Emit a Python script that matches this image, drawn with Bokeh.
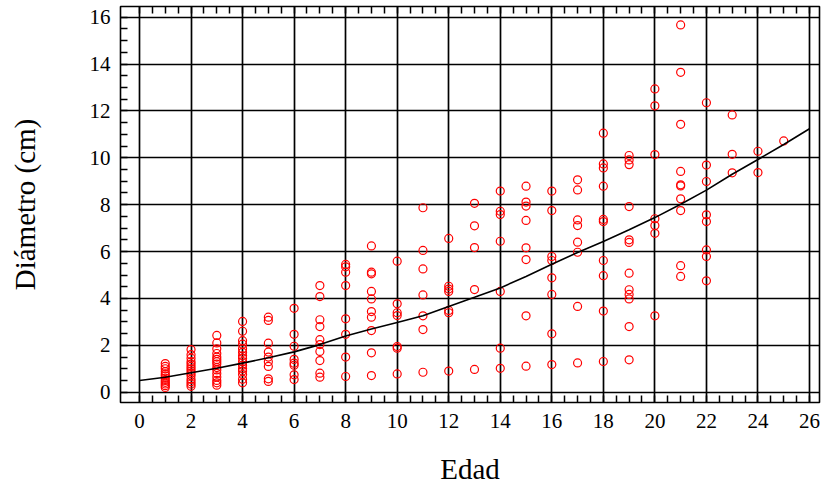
from bokeh.plotting import figure
from bokeh.models import Range1d, FixedTicker, LinearAxis, ColumnDataSource
from bokeh.embed import file_html
from bokeh.resources import INLINE

# Diameter (cm) measured per tree age (years)
ages = [1]*12 + [2]*14 + [3]*15 + [4]*15 + [5]*9 + [6]*8 + [7]*10 + [8]*8 + [9]*10 \
    + [10]*7 + [11]*7 + [12]*7 + [13]*5 + [14]*7 + [15]*8 + [16]*8 + [17]*8 \
    + [18]*10 + [19]*12 + [20]*7 + [21]*10 + [22]*8 + [23]*3 + [24]*2 + [25]*1

diam_1 = [1.22, 1.1, 1.0, 0.88, 0.78, 0.7, 0.6, 0.5, 0.42, 0.35, 0.28, 0.2]
diam_2 = [1.82, 1.6, 1.45, 1.3, 1.2, 1.1, 1.0, 0.9, 0.8, 0.7, 0.55, 0.45, 0.35, 0.25]
diam_3 = [2.42, 2.1, 1.85, 1.65, 1.5, 1.4, 1.3, 1.2, 1.05, 0.95, 0.8, 0.65, 0.5, 0.4, 0.3]
diam_4 = [3.02, 2.6, 2.2, 2.05, 1.85, 1.7, 1.55, 1.45, 1.3, 1.15, 1.0, 0.9, 0.75, 0.55, 0.4]
diam_5 = [3.2, 3.06, 2.09, 1.71, 1.5, 1.3, 1.1, 0.57, 0.46]
diam_6 = [3.58, 2.47, 1.96, 1.4, 1.24, 1.15, 0.74, 0.54]
diam_7 = [4.55, 4.08, 3.09, 2.8, 2.24, 2.03, 1.74, 1.35, 0.81, 0.64]
diam_8 = [5.45, 5.35, 5.12, 4.55, 3.13, 2.47, 1.5, 0.67]
diam_9 = [6.24, 5.12, 5.05, 4.3, 3.98, 3.44, 3.2, 2.63, 1.68, 0.71]
diam_10 = [5.59, 3.77, 3.39, 3.27, 1.95, 1.88, 0.78]
diam_11 = [7.87, 6.05, 5.26, 4.15, 3.26, 2.67, 0.85]
diam_12 = [6.56, 4.52, 4.4, 4.3, 3.49, 3.39, 0.9]
diam_13 = [8.06, 7.1, 6.17, 4.38, 0.97]
diam_14 = [8.58, 7.72, 7.58, 6.44, 4.3, 1.88, 1.02]
diam_15 = [8.79, 8.11, 7.94, 7.33, 6.16, 5.66, 3.26, 1.11]
diam_16 = [8.58, 7.75, 5.79, 5.62, 4.88, 4.17, 2.49, 1.18]
diam_17 = [9.06, 8.63, 7.35, 7.11, 6.4, 5.97, 3.66, 1.25]
diam_18 = [11.05, 9.74, 9.57, 8.79, 7.37, 7.28, 5.62, 4.97, 3.46, 1.31]
diam_19 = [10.1, 9.91, 9.71, 7.92, 6.5, 6.39, 5.08, 4.37, 4.17, 3.98, 2.8, 1.38]
diam_20 = [12.94, 12.22, 10.14, 7.4, 7.11, 6.78, 3.26]
diam_21 = [15.67, 13.65, 11.43, 9.42, 8.85, 8.8, 8.25, 7.75, 5.4, 4.94]
diam_22 = [12.35, 9.69, 8.99, 7.57, 7.28, 6.07, 5.79, 4.75]
diam_23 = [11.83, 10.15, 9.36]
diam_24 = [10.28, 9.37]
diam_25 = [10.72]

diameters = (diam_1 + diam_2 + diam_3 + diam_4 + diam_5 + diam_6 + diam_7 + diam_8
             + diam_9 + diam_10 + diam_11 + diam_12 + diam_13 + diam_14 + diam_15
             + diam_16 + diam_17 + diam_18 + diam_19 + diam_20 + diam_21 + diam_22
             + diam_23 + diam_24 + diam_25)

# Fitted trend of diameter against age
fit_age = list(range(0, 27))
fit_diam = [0.5, 0.64, 0.83, 1.02, 1.24, 1.47, 1.72, 2.03, 2.4, 2.7, 2.97, 3.26,
            3.66, 4.05, 4.45, 4.94, 5.46, 5.96, 6.43, 6.93, 7.45, 8.02, 8.62, 9.3,
            9.93, 10.57, 11.24]

x_ticks = list(range(0, 27, 2))
y_ticks = list(range(0, 17, 2))
x_minor = [t / 2 for t in range(0, 53)]
y_minor = [t / 2 for t in range(0, 33)]

FONT = "Liberation Serif"

p = figure(width=821, height=491, output_backend="svg", toolbar_location=None,
           x_range=Range1d(-0.737, 26.388), y_range=Range1d(-0.44, 16.457),
           x_axis_location=None, y_axis_location=None,
           min_border_left=120, min_border_right=2, min_border_top=6,
           min_border_bottom=89)
p.background_fill_color = "white"
p.border_fill_color = "white"
p.outline_line_color = "black"
p.outline_line_width = 1.6


def style_axis(ax, ticks, minor):
    ax.ticker = FixedTicker(ticks=ticks, minor_ticks=minor)
    ax.axis_line_color = None
    ax.major_tick_in = 0
    ax.major_tick_out = 0
    ax.minor_tick_in = 7
    ax.minor_tick_out = 0
    ax.minor_tick_line_color = "black"
    ax.minor_tick_line_width = 1.5
    ax.major_label_text_font = FONT
    ax.major_label_text_font_size = "21px"
    ax.major_label_text_color = "black"
    ax.axis_label_text_font = FONT
    ax.axis_label_text_font_size = "29px"
    ax.axis_label_text_font_style = "normal"
    ax.axis_label_text_color = "black"


xb = LinearAxis(axis_label="Edad")
style_axis(xb, x_ticks, x_minor)
xb.major_label_standoff = 11
xb.axis_label_standoff = 22
p.add_layout(xb, "below")

yl = LinearAxis(axis_label="Diámetro (cm)")
style_axis(yl, y_ticks, y_minor)
yl.major_label_standoff = 10
yl.axis_label_standoff = 46
p.add_layout(yl, "left")

# Top edge carries only the half-unit tick marks
xt = LinearAxis()
style_axis(xt, [], x_minor)
p.add_layout(xt, "above")

# Grid lines at every major tick
p.xgrid.ticker = FixedTicker(ticks=x_ticks)
p.ygrid.ticker = FixedTicker(ticks=y_ticks)
for g in (p.xgrid, p.ygrid):
    g.grid_line_color = "black"
    g.grid_line_width = 1.7
    g.grid_line_alpha = 1.0

src = ColumnDataSource(data=dict(age=ages, diam=diameters))
p.scatter("age", "diam", source=src, marker="circle", size=8,
          fill_color=None, line_color="red", line_width=1.2)

p.line(fit_age, fit_diam, line_color="black", line_width=1.6)

open("out.html", "w").write(file_html(p, INLINE))
